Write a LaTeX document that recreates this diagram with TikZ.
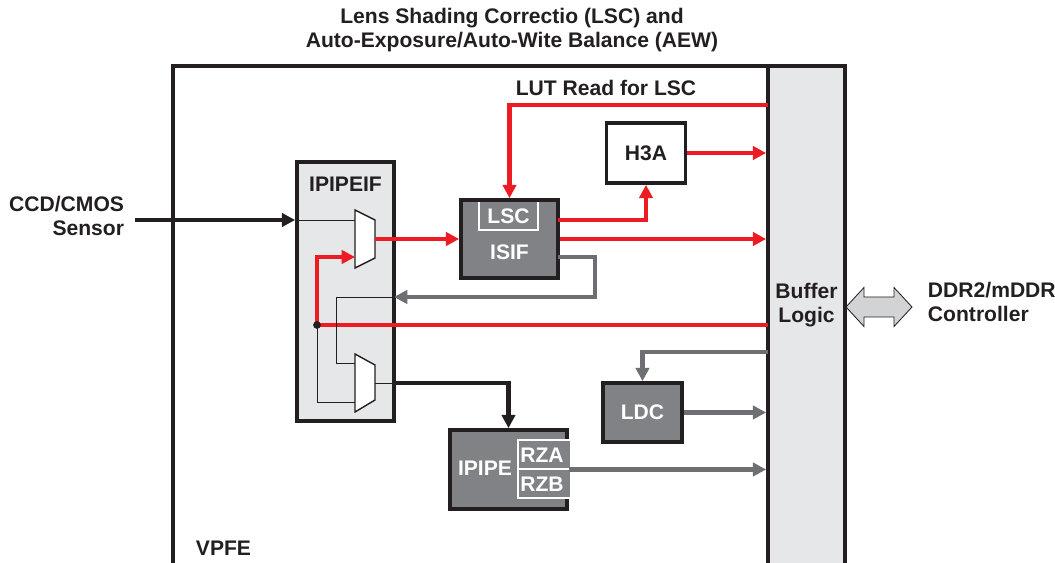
\documentclass[tikz,border=0pt]{standalone}
\usepackage{fontspec}
\setmainfont{Liberation Sans}
\usepackage{tikz}
\usetikzlibrary{positioning, arrows.meta}

\definecolor{rosso}{RGB}{237,28,36}
\definecolor{nero}{RGB}{35,31,32}
\definecolor{grigiochiaro}{RGB}{230,231,232}
\definecolor{grigioscuro}{RGB}{128,130,133}
\definecolor{grigiofreccia}{RGB}{110,111,114}
\definecolor{grigiodoppia}{RGB}{209,211,212}

\begin{document}
\begin{tikzpicture}[x=0.025cm, y=-0.025cm,
    every node/.style={font={\bfseries\fontsize{15}{17}\selectfont}, text=nero},
    box/.style={draw=nero, line width=2.6pt, inner sep=0pt},
    lightbox/.style={box, fill=grigiochiaro},
    darkbox/.style={box, fill=grigioscuro, text=white},
    whitetext/.style={text=white},
    redline/.style={draw=rosso, line width=3.4pt},
    redarrow/.style={redline, -{Triangle[length=9.5pt, width=9.5pt]}},
    grayarrow/.style={draw=grigiofreccia, line width=3.2pt, -{Triangle[length=9.5pt, width=9.5pt]}},
    blackarrow/.style={draw=nero, line width=3.2pt, -{Triangle[length=9.5pt, width=9.5pt]}},
    thinline/.style={draw=nero, line width=0.7pt},
    whiteline/.style={draw=white, line width=1.3pt},
    muxshape/.style={draw=nero, fill=white, line width=1pt},
    junction/.style={circle, fill=nero, inner sep=0pt, minimum size=5.5pt}
]
    \useasboundingbox (0,0) rectangle (1055,563);

    % Titolo
    \node[align=center] (title) at (512,30) {Lens Shading Correctio (LSC) and\\Auto-Exposure/Auto-Wite Balance (AEW)};

    % Contenitore VPFE e buffer
    \node[box, minimum width=16.8cm, minimum height=13.35cm] (vpfe) at (509,333) {};
    \node[anchor=west] (vpfelbl) at (191,548) {VPFE};
    \node[lightbox, minimum width=1.925cm, minimum height=13.35cm] (buf) at (806.5,333) {};
    \node[align=center] (buflbl) at (806.5,305) {Buffer\\Logic};

    % Blocchi
    \node[lightbox, minimum width=2.425cm, minimum height=6.475cm] (ipipeif) at (345.5,291.5) {};
    \node (ipipeiflbl) at (345.5,184) {IPIPEIF};
    \node[darkbox, minimum width=2.425cm, minimum height=1.95cm] (isif) at (509.5,239) {};
    \node[whitetext] (isiflbl) at (509.5,252) {ISIF};
    \draw[whiteline] (479,202) |- (538,230) -- (538,202);
    \node[whitetext] (lsc) at (508.5,216) {LSC};
    \node[box, fill=white, minimum width=1.975cm, minimum height=1.5cm] (h3a) at (646,153) {H3A};
    \node[darkbox, minimum width=1.975cm, minimum height=1.475cm] (ldc) at (642.5,412.5) {LDC};
    \node[darkbox, minimum width=2.925cm, minimum height=1.975cm] (ipipe) at (508.5,469.5) {};
    \node[whitetext] (ipipelbl) at (485,468) {IPIPE};
    \fill[grigioscuro] (564,440) rectangle (569.5,498);
    \draw[whiteline] (569.5,440) -| (518,498) -- (569.5,498);
    \draw[whiteline] (518,469) -- (569.5,469);
    \foreach \lbl/\nm/\y in {RZA/rza/455, RZB/rzb/484}
        \node[whitetext] (\nm) at (542,\y) {\lbl};

    % Multiplexer
    \draw[muxshape] (355,210) -- (375,220) -- (375,258) -- (355,268) -- cycle;
    \draw[muxshape] (355,354) -- (375,365) -- (375,400) -- (355,412) -- cycle;
    \coordinate (muxa-in1) at (355,220);
    \coordinate (muxa-in2) at (355,257);
    \coordinate (muxa-out) at (375,239);
    \coordinate (muxb-in1) at (355,363);
    \coordinate (muxb-in2) at (355,402);
    \coordinate (muxb-out) at (375,383);

    % Ingresso sensore
    \node[anchor=east, align=right] (sensor) at (129,216) {CCD/CMOS\\Sensor};
    \coordinate (sens-out) at (135,220);
    \draw[blackarrow] (sens-out) -- (ipipeif.west |- muxa-in1);
    \draw[thinline] (ipipeif.west |- muxa-in1) -- (muxa-in1);

    % Percorsi rossi (LSC e H3A)
    \node (lutlbl) at (606,88) {LUT Read for LSC};
    \coordinate (lutin) at (768,105);
    \draw[redarrow] (lutin) -| (isif.north);
    \coordinate (isif-o1) at (558,220);
    \draw[redarrow] (isif-o1) -| (h3a.south);
    \foreach \src in {h3a, isif}
        \draw[redarrow] (\src.east) -- (\src.east -| buf.west);
    \draw[redarrow] (muxa-out) -- (isif.west);

    % Ritorno dal buffer
    \coordinate (redin) at (768,325);
    \coordinate (junc) at (317,325);
    \draw[redline] (redin) -- (junc);
    \draw[redarrow] (junc) |- (muxa-in2);
    \draw[thinline] (junc) |- (muxb-in2);
    \node[junction] (juncdot) at (junc) {};

    % Retroazione grigia da ISIF
    \coordinate (isif-o3) at (558,257);
    \coordinate (fb) at (394,297);
    \draw[grayarrow] (isif-o3) -- ++(37,0) |- (fb);
    \draw[thinline] (fb) -- ++(-58,0) |- (muxb-in1);

    % Uscita verso IPIPE
    \draw[thinline] (muxb-out) -- (ipipeif.east |- muxb-out);
    \draw[blackarrow] (ipipeif.east |- muxb-out) -| (ipipe.north);

    % LDC e uscite grigie
    \coordinate (ldcin) at (768,352);
    \draw[grayarrow] (ldcin) -| (ldc.north);
    \foreach \src in {ldc, ipipe}
        \draw[grayarrow] (\src.east) -- (\src.east -| buf.west);

    % Collegamento DDR
    \node[anchor=west, align=left] (ddr) at (923,302) {DDR2/mDDR\\Controller};
    \draw[fill=grigiodoppia, draw=nero, line width=0.6pt] (846,307) -- (864,287.5) -- (864,297) -- (894,297) -- (894,287.5) -- (912,307) -- (894,326.5) -- (894,317) -- (864,317) -- (864,326.5) -- cycle;
\end{tikzpicture}
\end{document}
